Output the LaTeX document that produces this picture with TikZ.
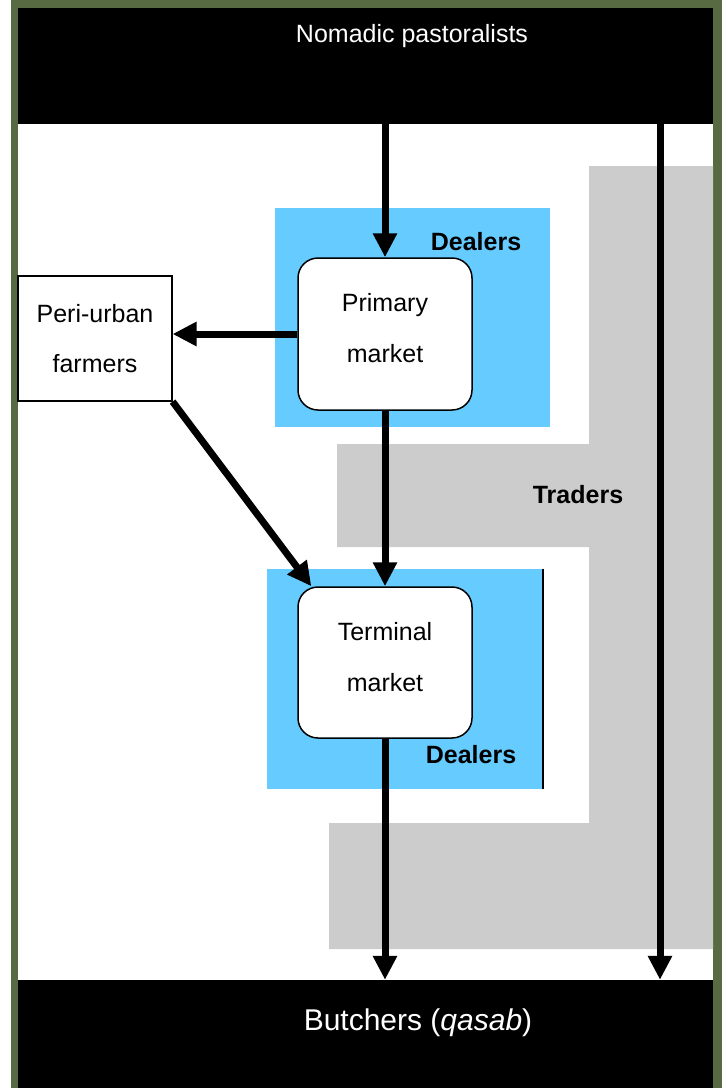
\documentclass[tikz,border=0pt]{standalone}
\usepackage{fontspec}
\setmainfont{Liberation Sans}
\usetikzlibrary{arrows.meta}

\definecolor{framegreen}{HTML}{586A42}
\definecolor{dealerblue}{HTML}{66CCFF}
\definecolor{tradergray}{HTML}{CCCCCC}

\tikzset{
  band/.style={fill=black, inner sep=0pt, minimum width=695pt},
  bandtext/.style={text=white, anchor=base, inner sep=0pt},
  market/.style={draw, line width=1.5pt, fill=white, rounded corners=20pt,
    minimum width=174pt, minimum height=152pt, align=center, text depth=12pt,
    font=\fontsize{25}{51}\selectfont},
  farmerbox/.style={draw, line width=1.2pt, fill=white, minimum width=154pt,
    minimum height=125pt, align=center, font=\fontsize{25}{50}\selectfont},
  area/.style={fill=dealerblue, inner sep=0pt},
  tag/.style={anchor=base, inner sep=0pt, font=\fontsize{25}{30}\selectfont\bfseries},
  flow/.style={-{Triangle[width=23pt,length=24pt]}, line width=7pt}
}

\begin{document}
\begin{tikzpicture}[x=1pt,y=1pt]
\useasboundingbox (0,0) rectangle (722,-1088);
\fill[white] (0,0) rectangle (722,-1088);
\fill[framegreen] (11,0) rectangle (722,-1088);
\fill[white] (18,-8) rectangle (713,-1088);

\node[band, minimum height=116pt] (nomads) at (365.5,-66) {};
\node[band, minimum height=108pt] (butchers) at (365.5,-1034) {};
\node[bandtext, font=\fontsize{25}{30}\selectfont] (nomadstext) at (412,-42) {Nomadic pastoralists};
\node[bandtext, font=\fontsize{30}{36}\selectfont] (butcherstext) at (418,-1030) {Butchers (\textit{qasab})};

% traders
\fill[tradergray] (589,-166) -- (713,-166) -- (713,-949) -- (329,-949) -- (329,-823)
  -- (589,-823) -- (589,-547) -- (337,-547) -- (337,-444) -- (589,-444) -- cycle;
\node[tag] (traders) at (578,-503) {Traders};

% dealers
\node[area, minimum width=275pt, minimum height=219pt] (dealers1) at (412.5,-317.5) {};
\node[area, minimum width=276pt, minimum height=220pt] (dealers2) at (405,-679) {};
\draw[line width=2pt] (dealers2.north east) -- (dealers2.south east);
\node[tag] (dealerstext1) at (476,-250) {Dealers};
\node[tag] (dealerstext2) at (471,-763) {Dealers};

\node[market] (primary) at (385,-334) {Primary\\market};
\node[market, minimum height=151pt] (terminal) at (385,-662.5) {Terminal\\market};
\node[farmerbox] (farmers) at (95,-338.5) {Peri-urban\\farmers};

\coordinate (bypass) at (660,-550);

\path
(primary |- nomads.south) edge[flow] (primary.north)
(bypass |- nomads.south) edge[flow] (bypass |- butchers.north)
(primary.west) edge[flow] (primary.west -| farmers.east)
(farmers.south east) edge[flow] (terminal.134)
(primary.south) edge[flow] (terminal.north)
(terminal.south) edge[flow] (terminal |- butchers.north);
\end{tikzpicture}
\end{document}
